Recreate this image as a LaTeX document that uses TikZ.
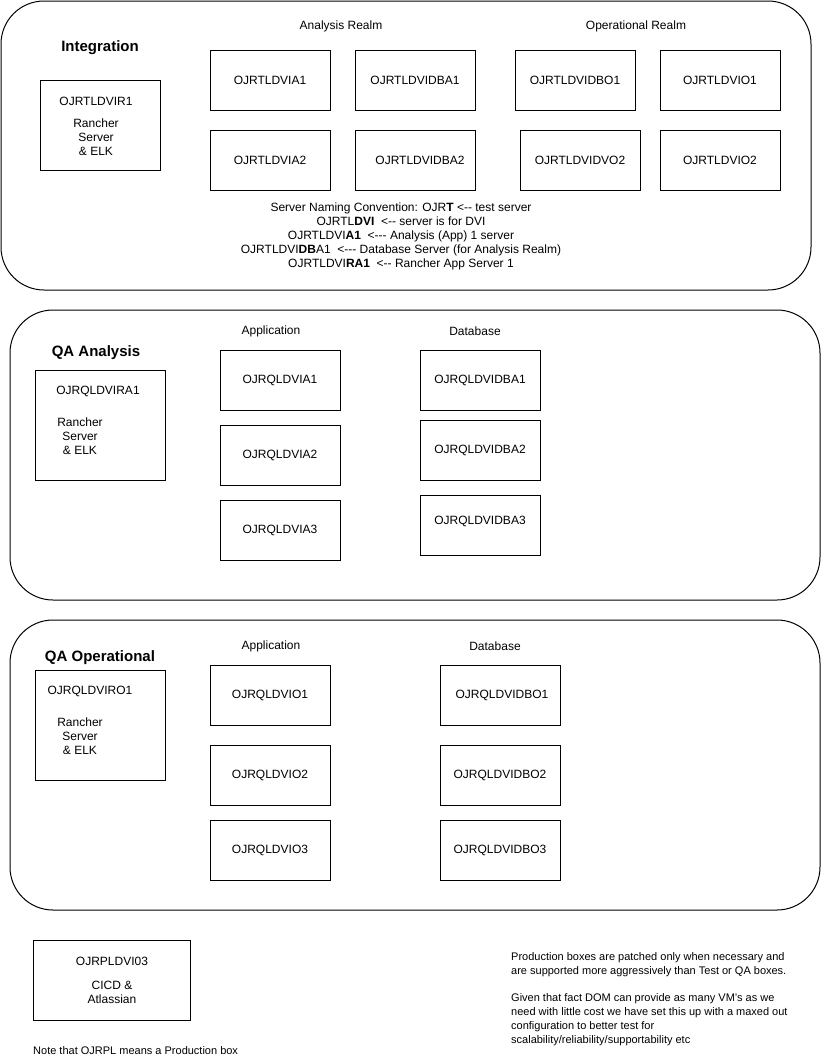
\documentclass[tikz,border=0pt]{standalone}
\usepackage{fontspec}
\setmainfont{Liberation Sans}
\newcommand{\dd}{-{}-{}}
\newcommand{\ddd}{-{}-{}-{}}
\begin{document}
\begin{tikzpicture}[x=1pt,y=-1pt,
  realm/.style={draw, line width=1pt, rounded corners=43pt, inner sep=0pt},
  srv/.style={draw, line width=1pt, minimum width=120pt, minimum height=60pt, inner sep=0pt, font=\fontsize{12}{14}\selectfont},
  big/.style={draw, line width=1pt, inner sep=0pt},
  lbl/.style={inner sep=0pt, yshift=-1.5pt, font=\fontsize{12}{14}\selectfont},
  note/.style={inner sep=0pt, font=\fontsize{11}{14}\selectfont, align=left, anchor=north west},
  ttl/.style={inner sep=0pt, yshift=-1.5pt, font=\bfseries\fontsize{15}{18}\selectfont}]
\useasboundingbox (0,0) rectangle (821,1061);

% ---------- Integration ----------
\node[realm, minimum width=810pt, minimum height=289pt] (intg) at (406,145.5) {};
\node[ttl] (intgT) at (100,46) {Integration};
\node[lbl] (arT) at (341,25) {Analysis Realm};
\node[lbl] (orT) at (636,25) {Operational Realm};
\node[big, minimum width=120pt, minimum height=90pt] (ir1) at (100,125) {};
\node[lbl] (ir1a) at (96,100) {OJRTLDVIR1};
\node[lbl, align=center] (ir1b) at (96,136) {Rancher\\Server\\\& ELK};
\node[srv] (ia1) at (270,80) {OJRTLDVIA1};
\node[srv] (idba1) at (415,80) {OJRTLDVIDBA1};
\node[srv] (idbo1) at (575,80) {OJRTLDVIDBO1};
\node[srv] (io1) at (720,80) {OJRTLDVIO1};
\node[srv] (ia2) at (270,160) {OJRTLDVIA2};
\node[srv] (idba2) at (415,160) {\hspace*{10pt}OJRTLDVIDBA2};
\node[srv] (idvo2) at (580,160) {OJRTLDVIDVO2};
\node[srv] (io2) at (720,160) {OJRTLDVIO2};
\node[lbl, align=center] (conv) at (401,235) {Server Naming Convention: OJR\textbf{T} <\dd{} test server\\
OJRTL\textbf{DVI}\ \ <\dd{} server is for DVI\\
OJRTLDVI\textbf{A1}\ \ <\ddd{} Analysis (App) 1 server\\
OJRTLDVI\textbf{DB}A1\ \ <\ddd{} Database Server (for Analysis Realm)\\
OJRTLDVI\textbf{RA1}\ \ <\dd{} Rancher App Server 1};

% ---------- QA Analysis ----------
\node[realm, minimum width=810pt, minimum height=290pt] (qaa) at (415,455) {};
\node[ttl] (qaaT) at (96,351) {QA Analysis};
\node[lbl] (qaaApp) at (271,330) {Application};
\node[lbl] (qaaDb) at (475,330) {Database};
\node[big, minimum width=130pt, minimum height=110pt] (qra1) at (100,425) {};
\node[lbl] (qra1a) at (98,390) {OJRQLDVIRA1};
\node[lbl, align=center] (qra1b) at (80,435) {Rancher\\Server\\\& ELK};
\node[srv] (qa1) at (280,380) {OJRQLDVIA1};
\node[srv] (qa2) at (280,455) {OJRQLDVIA2};
\node[srv] (qa3) at (280,530) {OJRQLDVIA3};
\node[srv] (qdba1) at (480,380) {OJRQLDVIDBA1};
\node[srv] (qdba2) at (480,450) {OJRQLDVIDBA2};
\node[big, minimum width=120pt, minimum height=60pt] (qdba3) at (480,525) {};
\node[lbl] (qdba3t) at (480,520) {OJRQLDVIDBA3};

% ---------- QA Operational ----------
\node[realm, minimum width=810pt, minimum height=290pt] (qao) at (415,765) {};
\node[ttl] (qaoT) at (100,656) {QA Operational};
\node[lbl] (qaoApp) at (271,645) {Application};
\node[lbl] (qaoDb) at (495,645) {Database};
\node[big, minimum width=130pt, minimum height=110pt] (qro1) at (100,725) {};
\node[lbl] (qro1a) at (90,690) {OJRQLDVIRO1};
\node[lbl, align=center] (qro1b) at (80,735) {Rancher\\Server\\\& ELK};
\node[srv] (qo1) at (270,695) {OJRQLDVIO1};
\node[srv] (qo2) at (270,775) {OJRQLDVIO2};
\node[srv] (qo3) at (270,850) {OJRQLDVIO3};
\node[srv] (qdbo1) at (500,695) {\hspace*{4pt}OJRQLDVIDBO1};
\node[srv] (qdbo2) at (500,775) {OJRQLDVIDBO2};
\node[srv] (qdbo3) at (500,850) {OJRQLDVIDBO3};

% ---------- Production ----------
\node[big, minimum width=157pt, minimum height=80pt] (prod) at (111.5,980) {};
\node[lbl] (proda) at (112,960) {OJRPLDVI03};
\node[lbl, align=center] (prodb) at (112,991) {CICD \&\\Atlassian};
\node[inner sep=0pt, font=\fontsize{11}{14}\selectfont, anchor=west] (pnote) at (33,1051) {Note that OJRPL means a Production box};
\node[note] (ptext) at (511,952) {Production boxes are patched only when necessary and\\
are supported more aggressively than Test or QA boxes.\\[13pt]
Given that fact DOM can provide as many VM's as we\\
need with little cost we have set this up with a maxed out\\
configuration to better test for\\
scalability/reliability/supportability etc};
\end{tikzpicture}
\end{document}
